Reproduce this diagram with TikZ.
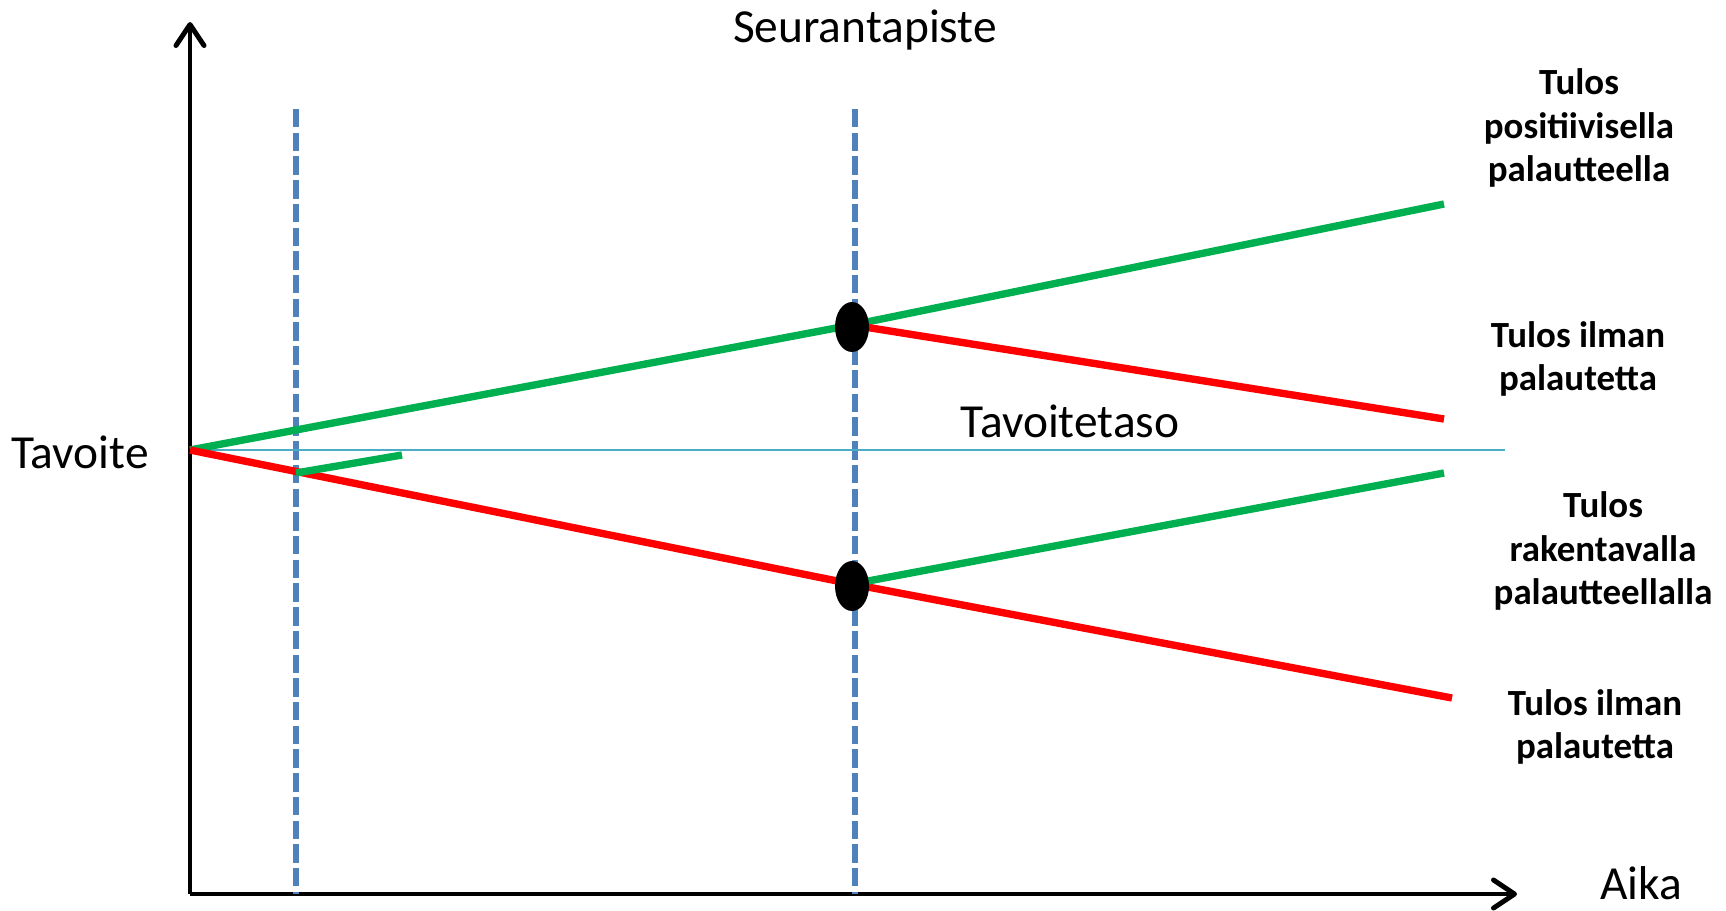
\documentclass[tikz,border=0pt]{standalone}
\usepackage{fontspec}
\setmainfont{Carlito}
\usetikzlibrary{arrows.meta,shapes.geometric,positioning}
\definecolor{lineGreen}{RGB}{0,176,80}
\definecolor{lineRed}{RGB}{255,0,0}
\definecolor{markBlue}{RGB}{79,129,189}
\definecolor{levelTeal}{RGB}{75,172,198}
\tikzset{
  axis/.style={line width=2.8pt, -{Straight Barb[length=12pt,width=16pt,line width=2.8pt,round]}},
  goodline/.style={draw=lineGreen, line width=4.2pt},
  badline/.style={draw=lineRed, line width=4.2pt},
  checkline/.style={draw=markBlue, line width=3.2pt, dash pattern=on 10.5pt off 3pt},
  dot/.style={ellipse, fill=black, minimum width=0.68cm, minimum height=1.0cm, inner sep=0pt},
  bigtext/.style={font=\fontsize{27}{32}\selectfont},
  outcome/.style={font=\fontsize{21}{24.6}\selectfont\bfseries, align=center}
}
\begin{document}
\begin{tikzpicture}[x=0.02cm, y=-0.02cm]
  \useasboundingbox (0,0) rectangle (1726,910);
  % Axes
  \coordinate (orig) at (190,894);
  \coordinate (ytop) at (190,22);
  \coordinate (xend) at (1517,894);
  \draw[axis] (orig) -- (ytop);
  \draw[axis] (orig) -- (xend);
  % Check points
  \coordinate (c1top) at (296,109);
  \coordinate (c1bot) at (296,894);
  \coordinate (c2top) at (855,109);
  \coordinate (c2bot) at (855,894);
  \draw[checkline] (c1top) -- (c1bot);
  \draw[checkline] (c2top) -- (c2bot);
  % Target level
  \coordinate (goal) at (190,450);
  \coordinate (goalend) at (1505,450);
  \draw[draw=levelTeal, line width=1.1pt] (goal) -- (goalend);
  % Outcome lines
  \coordinate (fbup) at (852,325);
  \coordinate (fbdown) at (852,584);
  \coordinate (posend) at (1444,204);
  \coordinate (noneup) at (1444,419);
  \coordinate (consend) at (1444,473);
  \coordinate (nonedown) at (1452,698);
  \coordinate (early) at (296,473);
  \coordinate (earlyend) at (402,455);
  \draw[goodline] (goal) -- (fbup) -- (posend);
  \draw[badline] (fbup) -- (noneup);
  \draw[badline] (goal) -- (fbdown) -- (nonedown);
  \draw[goodline] (fbdown) -- (consend);
  \draw[goodline] (early) -- (earlyend);
  \node[dot] (dotup) at (852,327) {};
  \node[dot] (dotdown) at (852,586) {};
  % Labels
  \node[bigtext] (seuranta) at (865,30) {Seurantapiste};
  \node[bigtext] (tavoite) at (80,452) {Tavoite};
  \node[bigtext] (taso) at (1070,421) {Tavoitetaso};
  \node[bigtext] (aika) at (1641,883) {Aika};
  \node[outcome] (pos) at (1579,128) {Tulos\\positiivisella\\palautteella};
  \node[outcome] (none1) at (1578,359) {Tulos ilman\\palautetta};
  \node[outcome] (cons) at (1603,551) {Tulos\\rakentavalla\\palautteellalla};
  \node[outcome] (none2) at (1595,727) {Tulos ilman\\palautetta};
\end{tikzpicture}
\end{document}
